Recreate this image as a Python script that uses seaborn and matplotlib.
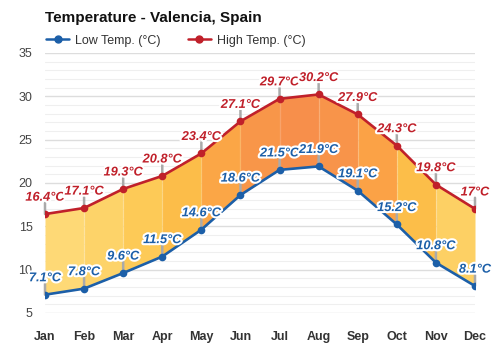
import numpy as np
import matplotlib
matplotlib.use("Agg")
import matplotlib.pyplot as plt
import matplotlib.patheffects as pe
from matplotlib.colors import LinearSegmentedColormap
from matplotlib.lines import Line2D
import seaborn as sns

months = ["Jan", "Feb", "Mar", "Apr", "May", "Jun", "Jul", "Aug", "Sep", "Oct", "Nov", "Dec"]
low_temp = [7.1, 7.8, 9.6, 11.5, 14.6, 18.6, 21.5, 21.9, 19.1, 15.2, 10.8, 8.1]
high_temp = [16.4, 17.1, 19.3, 20.8, 23.4, 27.1, 29.7, 30.2, 27.9, 24.3, 19.8, 17.0]
high_labels = ["16.4°C", "17.1°C", "19.3°C", "20.8°C", "23.4°C", "27.1°C",
               "29.7°C", "30.2°C", "27.9°C", "24.3°C", "19.8°C", "17°C"]
low_labels = ["7.1°C", "7.8°C", "9.6°C", "11.5°C", "14.6°C", "18.6°C",
              "21.5°C", "21.9°C", "19.1°C", "15.2°C", "10.8°C", "8.1°C"]

sns.set_style("white")
plt.rcParams["font.family"] = ["Liberation Sans", "DejaVu Sans"]

blue = "#1c5fa8"
red = "#c0202a"
warm = LinearSegmentedColormap.from_list("warm", ["#fed977", "#fcc44a", "#fba446", "#f78f4b"])

fig = plt.figure(figsize=(5, 3.5), dpi=100)
ax = fig.add_axes([0.09, 0.106, 0.86, 0.743])

x = np.arange(len(months))
lo = np.array(low_temp)
hi = np.array(high_temp)

# coloured bands between the two curves, colour from mean temperature
mid = (lo + hi) / 2
for i in range(len(months) - 1):
    t = ((mid[i] + mid[i + 1]) / 2 - 12) / (25.8 - 12)
    ax.fill_between(x[i:i + 2], lo[i:i + 2], hi[i:i + 2],
                    color=warm(np.clip(t, 0, 1)), lw=0, zorder=1)
for i in range(1, len(months) - 1):
    ax.plot([i, i], [lo[i], hi[i]], color="white", alpha=0.15, lw=1, zorder=1.5)

sns.lineplot(x=x, y=lo, color=blue, marker="o", markersize=5.5, markeredgewidth=0,
             lw=1.9, ax=ax, zorder=3)
sns.lineplot(x=x, y=hi, color=red, marker="o", markersize=5.5, markeredgewidth=0,
             lw=1.9, ax=ax, zorder=3)

stroke = [pe.withStroke(linewidth=3, foreground="white")]
for vals, labels, col in [(hi, high_labels, red), (lo, low_labels, blue)]:
    for xi, v, lab in zip(x, vals, labels):
        ax.annotate("", xy=(xi, v), xytext=(0, 8), textcoords="offset points",
                    xycoords="data",
                    arrowprops=dict(arrowstyle="-", color="#aaaaaa", lw=1.8,
                                    shrinkA=0, shrinkB=0), zorder=2)
        ax.annotate(lab, xy=(xi, v), xytext=(0, 7.5), textcoords="offset points",
                    ha="center", va="bottom", fontsize=9.2, fontweight="bold",
                    fontstyle="italic", color=col, path_effects=stroke, zorder=4)

ax.set_xlim(0, 11)
ax.set_ylim(5, 35)
ax.set_yticks(range(5, 36, 5))
ax.set_yticks(range(5, 36), minor=True)
ax.set_xticks(x)
ax.set_xticklabels(months, fontweight="bold", color="#333333", fontsize=9)
ax.tick_params(axis="y", colors="#444444", labelsize=9, length=0, pad=9)
ax.tick_params(axis="x", length=0, pad=13)
ax.tick_params(which="minor", length=0)
ax.grid(axis="y", which="major", color="#dddddd", lw=1)
ax.grid(axis="y", which="minor", color="#efefef", lw=0.8)
ax.set_axisbelow(True)
for s in ax.spines.values():
    s.set_visible(False)
ax.set_xlabel("")
ax.set_ylabel("")

fig.text(0.09, 0.948, "Temperature - Valencia, Spain", fontsize=11, fontweight="bold",
         color="#111111", va="center", ha="left")
handles = [Line2D([], [], color=blue, marker="o", markersize=5, lw=1.8),
           Line2D([], [], color=red, marker="o", markersize=5, lw=1.8)]
fig.legend(handles, ["Low Temp. (°C)", "High Temp. (°C)"], loc="center left",
           bbox_to_anchor=(0.07, 0.884), ncol=2, frameon=False, fontsize=9,
           handlelength=1.8, handletextpad=0.5, columnspacing=2.2,
           labelcolor="#333333")

fig.savefig("out.png", dpi=100)
